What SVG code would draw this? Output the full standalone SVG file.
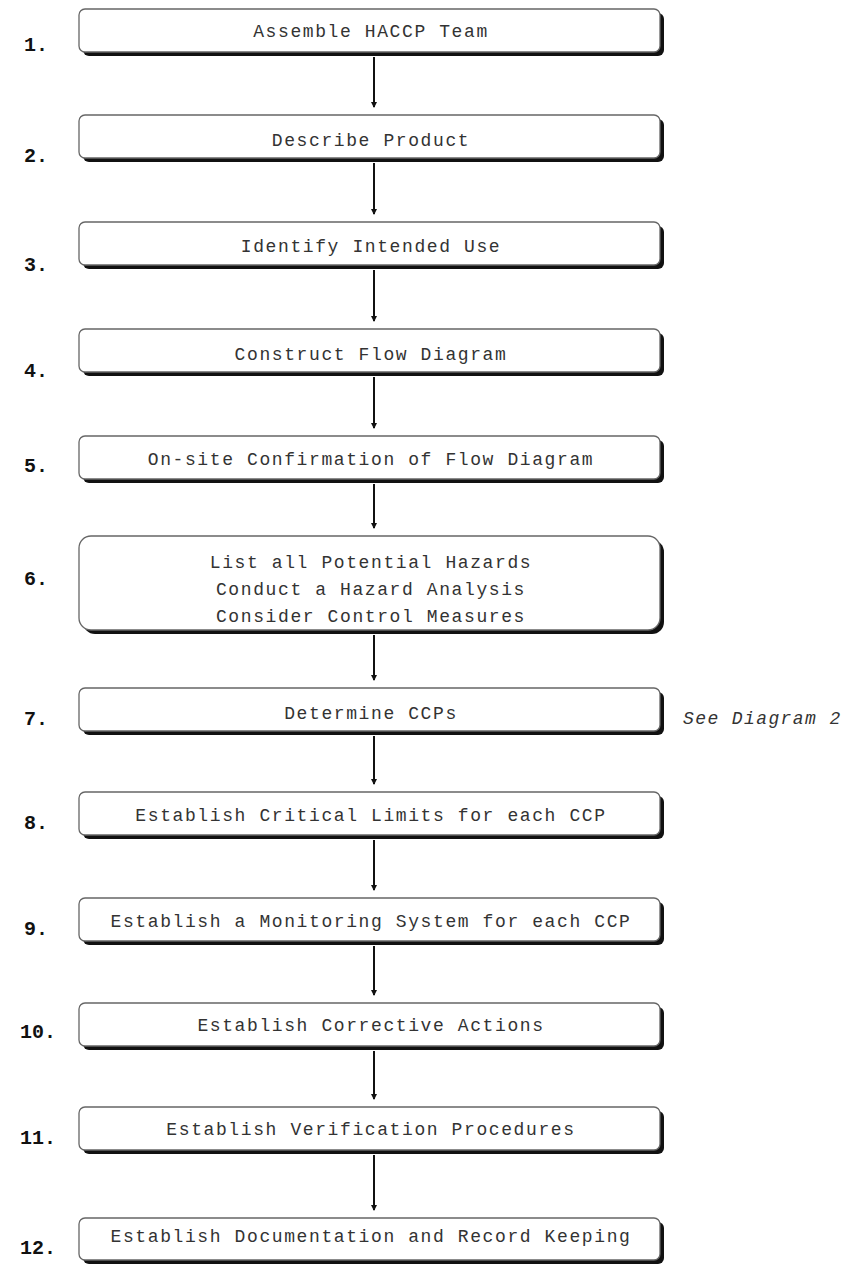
<svg xmlns="http://www.w3.org/2000/svg" width="849" height="1264" viewBox="0 0 849 1264">
<style>
.box{fill:#fff;stroke:#666;stroke-width:1.3}
.sh{fill:#111}
.t{font-family:"Liberation Mono","Courier New",monospace;font-size:18px;letter-spacing:1.6px;fill:#333;text-anchor:middle}
.n{font-family:"Liberation Mono","Courier New",monospace;font-size:20px;font-weight:bold;fill:#111;text-anchor:end}
.c{stroke:#111;stroke-width:2;fill:none;marker-end:url(#ah)}
.note{font-family:"Liberation Mono","Courier New",monospace;font-size:18px;letter-spacing:1.4px;font-style:italic;fill:#333}
</style>
<defs>
<marker id="ah" markerWidth="6" markerHeight="6" refX="5" refY="3" orient="auto" markerUnits="userSpaceOnUse">
<path d="M0,0 L6,3 L0,6 z" fill="#111"/>
</marker>
</defs>
<rect width="849" height="1264" fill="#fff"/>
<g id="connectors">
<line class="c" x1="374" y1="57" x2="374" y2="107"/>
<line class="c" x1="374" y1="163" x2="374" y2="214"/>
<line class="c" x1="374" y1="270" x2="374" y2="321"/>
<line class="c" x1="374" y1="377" x2="374" y2="428"/>
<line class="c" x1="374" y1="484" x2="374" y2="528"/>
<line class="c" x1="374" y1="635" x2="374" y2="680"/>
<line class="c" x1="374" y1="736" x2="374" y2="784"/>
<line class="c" x1="374" y1="840" x2="374" y2="890"/>
<line class="c" x1="374" y1="946" x2="374" y2="995"/>
<line class="c" x1="374" y1="1051" x2="374" y2="1099"/>
<line class="c" x1="374" y1="1155" x2="374" y2="1210"/>
</g>
<g id="n1"><rect class="sh" x="83" y="13" width="581" height="43" rx="6"/><rect class="box" x="79" y="9" width="581" height="43" rx="6"/><text class="t" x="371" y="37">Assemble HACCP Team</text><text class="n" x="48" y="51">1.</text></g>
<g id="n2"><rect class="sh" x="83" y="119" width="581" height="43" rx="6"/><rect class="box" x="79" y="115" width="581" height="43" rx="6"/><text class="t" x="371" y="146">Describe Product</text><text class="n" x="48" y="162">2.</text></g>
<g id="n3"><rect class="sh" x="83" y="226" width="581" height="43" rx="6"/><rect class="box" x="79" y="222" width="581" height="43" rx="6"/><text class="t" x="371" y="252">Identify Intended Use</text><text class="n" x="48" y="271">3.</text></g>
<g id="n4"><rect class="sh" x="83" y="333" width="581" height="43" rx="6"/><rect class="box" x="79" y="329" width="581" height="43" rx="6"/><text class="t" x="371" y="360">Construct Flow Diagram</text><text class="n" x="48" y="377">4.</text></g>
<g id="n5"><rect class="sh" x="83" y="440" width="581" height="43" rx="6"/><rect class="box" x="79" y="436" width="581" height="43" rx="6"/><text class="t" x="371" y="465">On-site Confirmation of Flow Diagram</text><text class="n" x="48" y="472">5.</text></g>
<g id="n6"><rect class="sh" x="83" y="540" width="581" height="94" rx="12"/><rect class="box" x="79" y="536" width="581" height="94" rx="12"/><text class="t" x="371" y="568">List all Potential Hazards</text><text class="t" x="371" y="595">Conduct a Hazard Analysis</text><text class="t" x="371" y="622">Consider Control Measures</text><text class="n" x="48" y="585">6.</text></g>
<g id="n7"><rect class="sh" x="83" y="692" width="581" height="43" rx="6"/><rect class="box" x="79" y="688" width="581" height="43" rx="6"/><text class="t" x="371" y="719">Determine CCPs</text><text class="n" x="48" y="725">7.</text><text class="note" x="683" y="724">See Diagram 2</text></g>
<g id="n8"><rect class="sh" x="83" y="796" width="581" height="43" rx="6"/><rect class="box" x="79" y="792" width="581" height="43" rx="6"/><text class="t" x="371" y="821">Establish Critical Limits for each CCP</text><text class="n" x="48" y="829">8.</text></g>
<g id="n9"><rect class="sh" x="83" y="902" width="581" height="43" rx="6"/><rect class="box" x="79" y="898" width="581" height="43" rx="6"/><text class="t" x="371" y="927">Establish a Monitoring System for each CCP</text><text class="n" x="48" y="935">9.</text></g>
<g id="n10"><rect class="sh" x="83" y="1007" width="581" height="43" rx="6"/><rect class="box" x="79" y="1003" width="581" height="43" rx="6"/><text class="t" x="371" y="1031">Establish Corrective Actions</text><text class="n" x="56" y="1038">10.</text></g>
<g id="n11"><rect class="sh" x="83" y="1111" width="581" height="43" rx="6"/><rect class="box" x="79" y="1107" width="581" height="43" rx="6"/><text class="t" x="371" y="1135">Establish Verification Procedures</text><text class="n" x="56" y="1144">11.</text></g>
<g id="n12"><rect class="sh" x="83" y="1222" width="581" height="42" rx="6"/><rect class="box" x="79" y="1218" width="581" height="42" rx="6"/><text class="t" x="371" y="1242">Establish Documentation and Record Keeping</text><text class="n" x="56" y="1254">12.</text></g>
</svg>
